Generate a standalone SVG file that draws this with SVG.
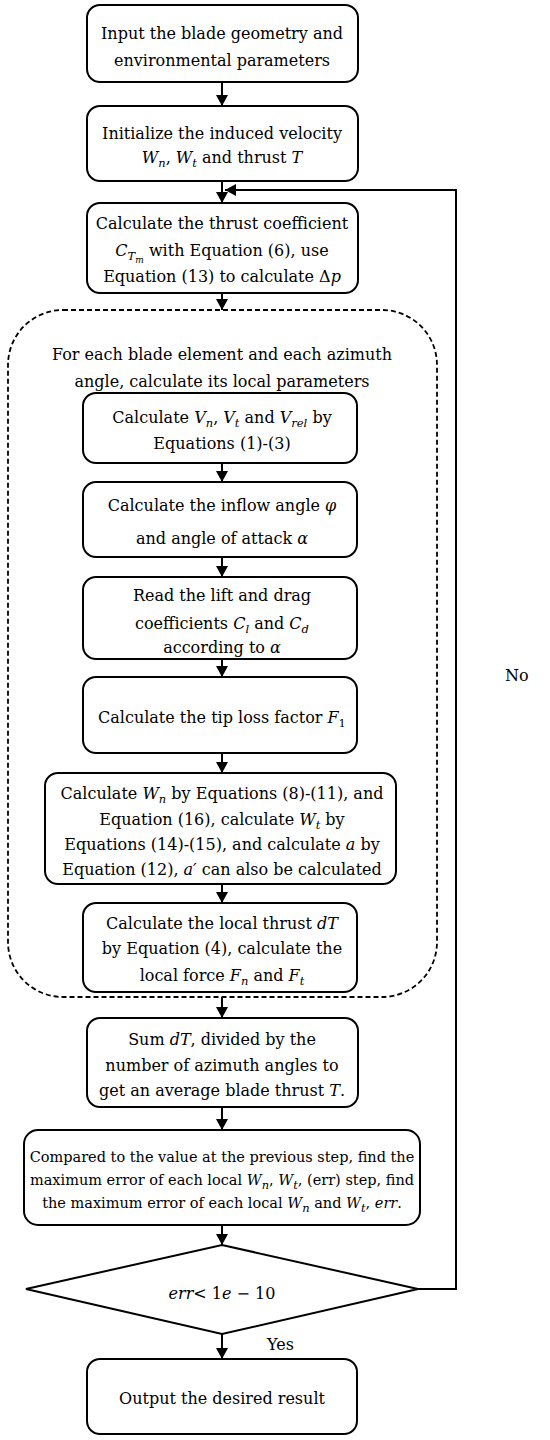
<svg xmlns="http://www.w3.org/2000/svg" width="550" height="1440" viewBox="0 0 550 1440">
<defs>
<marker id="ah" markerUnits="userSpaceOnUse" markerWidth="12" markerHeight="12" refX="11" refY="6" orient="auto">
<path d="M0,0 L11,6 L0,12 z" fill="#000"/>
</marker>
<style>
.box{fill:#fff;stroke:#000;stroke-width:2}
.dash{fill:none;stroke:#000;stroke-width:1.8;stroke-dasharray:5 3}
.ln{fill:none;stroke:#000;stroke-width:2}
text{font-family:"DejaVu Serif","Liberation Serif",serif;font-size:16px;fill:#000;text-anchor:middle}
.sm{font-size:14.5px}
.m{font-style:italic}
.s{font-size:11.5px}
.ss{font-size:9px}
.l{text-anchor:start}
</style>
</defs>
<rect width="550" height="1440" fill="#fff"/>

<g id="connectors">
<line class="ln" x1="222" y1="82" x2="222" y2="106" marker-end="url(#ah)"/>
<line class="ln" x1="222" y1="181" x2="222" y2="203" marker-end="url(#ah)"/>
<line class="ln" x1="222" y1="293" x2="222" y2="310" marker-end="url(#ah)"/>
<line class="ln" x1="222" y1="463" x2="222" y2="482" marker-end="url(#ah)"/>
<line class="ln" x1="222" y1="557" x2="222" y2="577" marker-end="url(#ah)"/>
<line class="ln" x1="222" y1="659" x2="222" y2="677" marker-end="url(#ah)"/>
<line class="ln" x1="222" y1="753" x2="222" y2="773" marker-end="url(#ah)"/>
<line class="ln" x1="222" y1="884" x2="222" y2="903" marker-end="url(#ah)"/>
<line class="ln" x1="222" y1="997" x2="222" y2="1018" marker-end="url(#ah)"/>
<line class="ln" x1="222" y1="1107" x2="222" y2="1130" marker-end="url(#ah)"/>
<line class="ln" x1="222" y1="1225" x2="222" y2="1245" marker-end="url(#ah)"/>
<line class="ln" x1="222" y1="1334" x2="222" y2="1359" marker-end="url(#ah)"/>
<polyline class="ln" points="418,1289 456,1289 456,190 225,190" marker-end="url(#ah)"/>
</g>

<g id="n1">
<rect class="box" x="87" y="5" width="271" height="77" rx="13"/>
<text x="222" y="39">Input the blade geometry and</text>
<text x="222" y="66">environmental parameters</text>
</g>

<g id="n2">
<rect class="box" x="87" y="106" width="271" height="75" rx="13"/>
<text x="222" y="139">Initialize the induced velocity</text>
<text x="222" y="163"><tspan class="m">W</tspan><tspan class="s m" dy="4">n</tspan><tspan dy="-4">,  </tspan><tspan class="m">W</tspan><tspan class="s m" dy="4">t</tspan><tspan dy="-4">  and thrust </tspan><tspan class="m">T</tspan></text>
</g>

<g id="n3">
<rect class="box" x="87" y="203" width="271" height="90" rx="13"/>
<text x="222" y="229">Calculate the thrust coefficient</text>
<text x="222" y="256"><tspan class="m">C</tspan><tspan class="s m" dy="4">T</tspan><tspan class="ss m" dy="3">m</tspan><tspan dy="-7">  with Equation (6), use</tspan></text>
<text x="222" y="282">Equation (13) to calculate Δ<tspan class="m">p</tspan></text>
</g>

<g id="loop">
<rect class="dash" x="8" y="310" width="429" height="687" rx="55"/>
<text x="222" y="360">For each blade element and each azimuth</text>
<text x="222" y="387">angle, calculate its local parameters</text>
</g>

<g id="n4">
<rect class="box" x="83" y="393" width="274" height="70" rx="13"/>
<text x="222" y="423">Calculate <tspan class="m">V</tspan><tspan class="s m" dy="4">n</tspan><tspan dy="-4">, </tspan><tspan class="m">V</tspan><tspan class="s m" dy="4">t</tspan><tspan dy="-4"> and </tspan><tspan class="m">V</tspan><tspan class="s m" dy="4">rel</tspan><tspan dy="-4"> by</tspan></text>
<text x="222" y="449">Equations (1)-(3)</text>
</g>

<g id="n5">
<rect class="box" x="83" y="482" width="274" height="75" rx="13"/>
<text x="222" y="511">Calculate the inflow angle <tspan class="m">φ</tspan></text>
<text x="222" y="544">and angle of attack <tspan class="m">α</tspan></text>
</g>

<g id="n6">
<rect class="box" x="83" y="577" width="274" height="82" rx="13"/>
<text x="222" y="601">Read the lift and drag</text>
<text x="222" y="629">coefficients <tspan class="m">C</tspan><tspan class="s m" dy="4">l</tspan><tspan dy="-4"> and </tspan><tspan class="m">C</tspan><tspan class="s m" dy="4">d</tspan></text>
<text x="222" y="653">according to <tspan class="m">α</tspan></text>
</g>

<g id="n7">
<rect class="box" x="83" y="677" width="274" height="76" rx="13"/>
<text x="222" y="723">Calculate the tip loss factor <tspan class="m">F</tspan><tspan class="s" dy="4">1</tspan></text>
</g>

<g id="n8">
<rect class="box" x="45" y="773" width="351" height="111" rx="13"/>
<text x="222" y="799">Calculate <tspan class="m">W</tspan><tspan class="s m" dy="4">n</tspan><tspan dy="-4"> by Equations (8)-(11), and</tspan></text>
<text x="222" y="825">Equation (16), calculate <tspan class="m">W</tspan><tspan class="s m" dy="4">t</tspan><tspan dy="-4"> by</tspan></text>
<text x="222" y="850">Equations (14)-(15), and calculate <tspan class="m">a</tspan> by</text>
<text x="222" y="875">Equation (12), <tspan class="m">a′</tspan> can also be calculated</text>
</g>

<g id="n9">
<rect class="box" x="83" y="903" width="274" height="89" rx="13"/>
<text x="222" y="929">Calculate the local thrust <tspan class="m">dT</tspan></text>
<text x="222" y="954">by Equation (4), calculate the</text>
<text x="222" y="981">local force <tspan class="m">F</tspan><tspan class="s m" dy="4">n</tspan><tspan dy="-4"> and </tspan><tspan class="m">F</tspan><tspan class="s m" dy="4">t</tspan></text>
</g>

<g id="n10">
<rect class="box" x="87" y="1018" width="271" height="89" rx="13"/>
<text x="222" y="1045">Sum <tspan class="m">dT</tspan>, divided by the</text>
<text x="222" y="1071">number of azimuth angles to</text>
<text x="222" y="1096">get an average blade thrust <tspan class="m">T</tspan>.</text>
</g>

<g id="n11">
<rect class="box" x="24" y="1130" width="396" height="95" rx="14"/>
<text class="sm" x="222" y="1162">Compared to the value at the previous step, find the</text>
<text class="sm" x="222" y="1185">maximum error of each local <tspan class="m">W</tspan><tspan class="s m" dy="4">n</tspan><tspan dy="-4">, </tspan><tspan class="m">W</tspan><tspan class="s m" dy="4">t</tspan><tspan dy="-4">, (err) step, find</tspan></text>
<text class="sm" x="222" y="1208">the maximum error of each local <tspan class="m">W</tspan><tspan class="s m" dy="4">n</tspan><tspan dy="-4"> and </tspan><tspan class="m">W</tspan><tspan class="s m" dy="4">t</tspan><tspan dy="-4">, </tspan><tspan class="m">err</tspan>.</text>
</g>

<g id="n12">
<polygon class="box" points="222,1245 418,1289 222,1334 26,1289"/>
<text x="222" y="1299"><tspan class="m">err</tspan>&lt; 1<tspan class="m">e</tspan> − 10</text>
</g>

<g id="n13">
<rect class="box" x="87" y="1359" width="270" height="75" rx="13"/>
<text x="222" y="1404">Output the desired result</text>
</g>

<g id="labels">
<text class="l" x="267" y="1350">Yes</text>
<text class="l" x="505" y="681">No</text>
</g>
</svg>
